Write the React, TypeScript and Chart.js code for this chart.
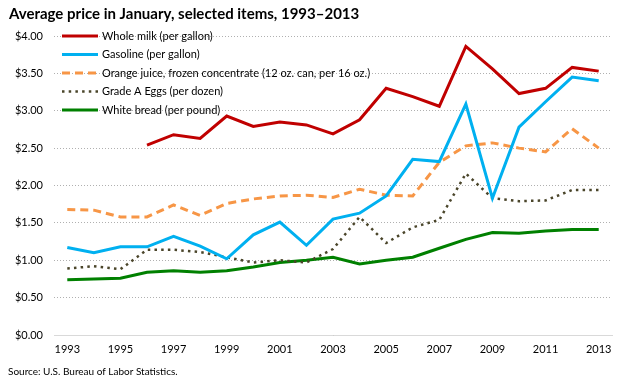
import { useEffect, useRef } from "react";
import { Chart, registerables } from "chart.js";

Chart.register(...registerables);

const titleText = "Average price in January, selected items, 1993\u20132013";
const sourceText = "Source: U.S. Bureau of Labor Statistics.";

const years = [
  "1993", "1994", "1995", "1996", "1997", "1998", "1999", "2000", "2001", "2002", "2003",
  "2004", "2005", "2006", "2007", "2008", "2009", "2010", "2011", "2012", "2013",
];

const wholeMilk = [null, null, null, 2.54, 2.68, 2.63, 2.93, 2.79, 2.85, 2.81, 2.69, 2.88, 3.30, 3.19, 3.06, 3.86, 3.56, 3.23, 3.30, 3.58, 3.53];
const gasoline = [1.17, 1.10, 1.18, 1.18, 1.32, 1.19, 1.02, 1.34, 1.51, 1.20, 1.55, 1.63, 1.86, 2.35, 2.32, 3.09, 1.83, 2.78, 3.12, 3.45, 3.40];
const orangeJuice = [1.68, 1.67, 1.58, 1.58, 1.74, 1.60, 1.76, 1.82, 1.86, 1.87, 1.84, 1.95, 1.87, 1.86, 2.31, 2.53, 2.57, 2.50, 2.45, 2.76, 2.50];
const eggs = [0.89, 0.92, 0.88, 1.14, 1.14, 1.11, 1.04, 0.97, 1.00, 0.97, 1.15, 1.58, 1.23, 1.44, 1.54, 2.16, 1.83, 1.79, 1.80, 1.94, 1.94];
const bread = [0.74, 0.75, 0.76, 0.84, 0.86, 0.84, 0.86, 0.91, 0.97, 1.00, 1.04, 0.95, 1.00, 1.04, 1.16, 1.28, 1.37, 1.36, 1.39, 1.41, 1.41];

const seriesNames = [
  "Whole milk (per gallon)",
  "Gasoline (per gallon)",
  "Orange juice, frozen concentrate (12 oz. can, per 16 oz.)",
  "Grade A Eggs (per dozen)",
  "White bread (per pound)",
];

const FONT = "Lato, 'DejaVu Sans', sans-serif";

const overlayPlugin = {
  id: "overlay",
  afterDraw(chart: any) {
    const ctx = chart.ctx as CanvasRenderingContext2D;
    const area = chart.chartArea;
    ctx.save();
    ctx.fillStyle = "#000000";
    ctx.textBaseline = "middle";
    ctx.textAlign = "left";
    ctx.font = `bold 15px ${FONT}`;
    ctx.fillText(titleText, 9, 14);
    ctx.font = `10px ${FONT}`;
    ctx.fillText(sourceText, 8, 372);

    ctx.font = `11px ${FONT}`;
    chart.data.datasets.forEach((ds: any, i: number) => {
      const y = area.top + i * 18.5;
      const x0 = area.left + 8;
      const x1 = x0 + 36;
      ctx.save();
      ctx.strokeStyle = ds.borderColor;
      ctx.lineWidth = ds.borderWidth;
      ctx.lineCap = ds.borderCapStyle || "butt";
      ctx.setLineDash(ds.borderDash || []);
      ctx.beginPath();
      ctx.moveTo(x0, y);
      ctx.lineTo(x1, y);
      ctx.stroke();
      ctx.restore();
      ctx.fillStyle = "#000000";
      ctx.fillText(ds.label, x1 + 4, y);
    });
    ctx.restore();
  },
};

export default function App() {
  const canvasRef = useRef<HTMLCanvasElement | null>(null);

  useEffect(() => {
    document.body.style.margin = "0";
    if (!canvasRef.current) return;
    const chart = new Chart(canvasRef.current, {
      type: "line",
      data: {
        labels: years,
        datasets: [
          { label: seriesNames[0], data: wholeMilk, borderColor: "#c00000", borderWidth: 3, pointRadius: 0, tension: 0, fill: false },
          { label: seriesNames[1], data: gasoline, borderColor: "#00b0f0", borderWidth: 3, pointRadius: 0, tension: 0, fill: false },
          { label: seriesNames[2], data: orangeJuice, borderColor: "#f79646", borderWidth: 3, borderDash: [8, 5], pointRadius: 0, tension: 0, fill: false },
          { label: seriesNames[3], data: eggs, borderColor: "#4a452a", borderWidth: 2.5, borderDash: [2.5, 4.2], pointRadius: 0, tension: 0, fill: false },
          { label: seriesNames[4], data: bread, borderColor: "#008000", borderWidth: 3, pointRadius: 0, tension: 0, fill: false },
        ],
      },
      options: {
        responsive: false,
        animation: false,
        layout: { padding: { top: 36, left: 0, right: 8, bottom: 20 } },
        plugins: {
          legend: { display: false },
          title: { display: false },
          tooltip: { enabled: false },
        },
        scales: {
          x: {
            type: "category",
            offset: true,
            grid: { display: false, drawTicks: false },
            border: { display: true, color: "#d9d9d9", width: 1 },
            ticks: {
              autoSkip: false,
              maxRotation: 0,
              padding: 8,
              color: "#000000",
              font: { family: FONT, size: 11 },
              callback: (_v: any, i: number) => (i % 2 === 0 ? years[i] : ""),
            },
            afterFit: (scale: any) => {
              scale.height = 25;
            },
          },
          y: {
            min: 0,
            max: 4,
            ticks: {
              stepSize: 0.5,
              padding: 11,
              color: "#000000",
              font: { family: FONT, size: 11 },
              callback: (v: any) => `$${Number(v).toFixed(2)}`,
            },
            grid: { color: "#b0b0b0", lineWidth: 1, drawTicks: false },
            border: { display: false, dash: [1, 2] },
            afterFit: (scale: any) => {
              scale.width = 54;
            },
          },
        },
      },
      plugins: [overlayPlugin],
    });
    return () => chart.destroy();
  }, []);

  return <canvas ref={canvasRef} width={620} height={380} />;
}
